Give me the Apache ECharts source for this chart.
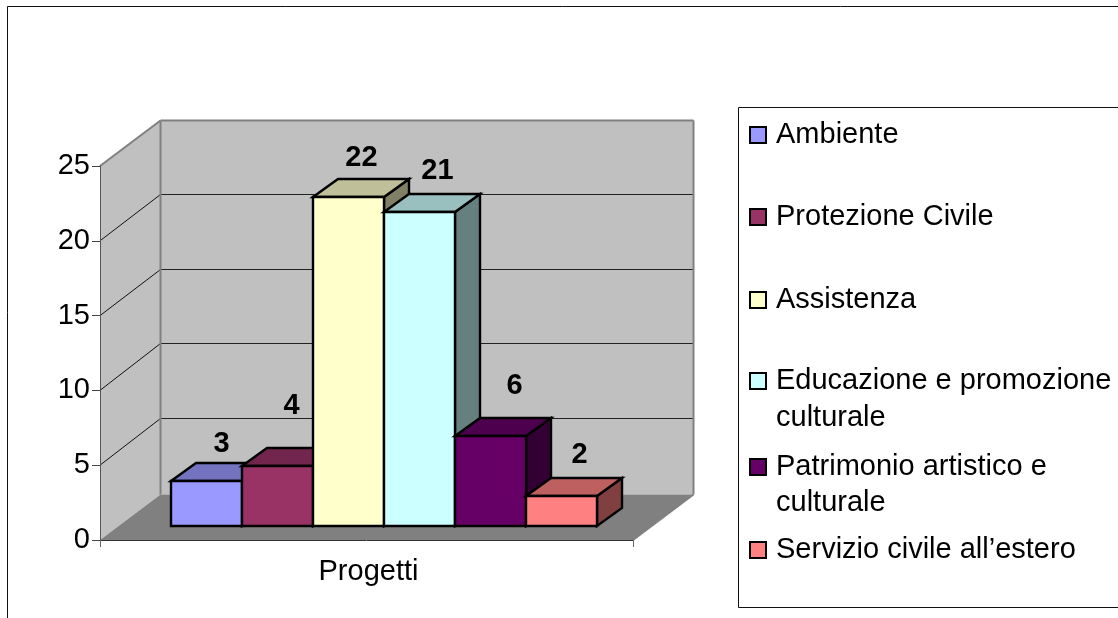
<!DOCTYPE html>
<html><head><meta charset="utf-8">
<style>html,body{margin:0;padding:0;background:#fff}#c{width:1118px;height:618px}</style>
<script src="https://cdn.jsdelivr.net/npm/echarts@6/dist/echarts.min.js"></script>
</head><body><div id="c"></div>
<script>
const categories = ["Progetti"];
const seriesNames = ["Ambiente","Protezione Civile","Assistenza","Educazione e promozione culturale","Patrimonio artistico e culturale","Servizio civile all\u2019estero"];
const seriesValues = [3,4,22,21,6,2];
const seriesColors = ["#9999FF","#993366","#FFFFCC","#CCFFFF","#660066","#FF8080"];
const legendFirstLines = ["Ambiente","Protezione Civile","Assistenza","Educazione e promozione","Patrimonio artistico e","Servizio civile all\u2019estero"];
const legendSecondLines = ["","","","culturale","culturale",""];
const yTicks = [0,5,10,15,20,25];

// layout of the pseudo-3D scene (pixels)
const FONT = '"Liberation Sans", Arial, sans-serif';
const wallDepth = [60.5,-45.5], gridDepthY = -46.5, barDepth = [25,-18], barLift = 14, barInset = 71, barStep = 71;
const labelNudge = [[15,-37],[14,-60],[13,-39],[18,-41],[24,-50],[18,-41]];
const legendCentres = [135,217,300,381,467,550];
const legendSecondCentres = [0,0,0,418,503,0];

function shade(hex,k){
  const n=parseInt(hex.slice(1),16);
  const c=[n>>16,(n>>8)&255,n&255].map(v=>Math.round(v*k));
  return 'rgb('+c.join(',')+')';
}
function poly(points,fill,stroke,w){
  return {type:'polygon',shape:{points},style:{fill,stroke,lineWidth:w,lineJoin:'miter'}};
}
function line(a,b,stroke,w){
  return {type:'line',shape:{x1:a[0],y1:a[1],x2:b[0],y2:b[1]},style:{stroke,lineWidth:w}};
}
function renderWalls(params,api){
  const g=params.coordSys, L=g.x, R=g.x+g.width, dx=wallDepth[0], dy=wallDepth[1];
  const B=api.coord([0,0])[1], T=api.coord([0,25])[1];
  const kids=[
    poly([[L,T],[L+dx,T+dy],[L+dx,B+dy],[L,B]],'#C0C0C0',null,0),
    poly([[L+dx,T+dy],[R+dx,T+dy],[R+dx,B+dy],[L+dx,B+dy]],'#C0C0C0',null,0),
    poly([[L,B],[L+dx,B+dy],[R+dx,B+dy],[R,B]],'#808080',null,0)
  ];
  yTicks.forEach(t=>{
    if(t===0||t===25) return;
    const y=api.coord([0,t])[1], yb=Math.floor(y+gridDepthY)+0.5;
    kids.push(line([L,y],[L+dx,yb],'#111',1));
    kids.push(line([L+dx,yb],[R+dx,yb],'#222',1));
  });
  kids.push(line([L,T],[L+dx,T+dy],'#808080',2));
  kids.push(line([L+dx,T+dy],[R+dx,T+dy],'#808080',2));
  kids.push(line([L+dx,T+dy],[L+dx,B+dy],'#808080',2));
  kids.push(line([R+dx,T+dy],[R+dx,B+dy],'#808080',2));
  kids.push(line([R,B],[R+dx,B+dy],'#808080',2));
  return {type:'group',children:kids};
}
function barRenderer(i){
  return function(params,api){
    const cat=api.value(0), v=api.value(1), band=api.size([1,0])[0];
    const base=api.coord([cat,0]), top=api.coord([cat,v]);
    const x0=Math.round(base[0]-band/2)+barInset+i*barStep, x1=x0+barStep;
    const yB=base[1]-barLift, yT=Math.round(top[1]-barLift), dx=barDepth[0], dy=barDepth[1];
    const col=seriesColors[i], s='#000', w=2.4;
    return {type:'group',children:[
      poly([[x1,yT],[x1+dx,yT+dy],[x1+dx,yB+dy],[x1,yB]],shade(col,0.5),s,w),
      poly([[x0,yT],[x0+dx,yT+dy],[x1+dx,yT+dy],[x1,yT]],shade(col,0.75),s,w),
      poly([[x0,yT],[x1,yT],[x1,yB],[x0,yB]],col,s,w),
      {type:'text',style:{text:String(v),x:(x0+x1)/2+labelNudge[i][0],y:yT+labelNudge[i][1],
        fill:'#000',font:'bold 29px '+FONT,align:'center',verticalAlign:'middle'}}
    ]};
  };
}
const series=[{type:'custom',name:'Pareti',silent:true,z:1,renderItem:renderWalls,data:[[0,0]],
  encode:{x:0,y:1},tooltip:{show:false}}];
seriesNames.forEach((n,i)=>series.push({
  type:'custom',name:n,z:4+i,renderItem:barRenderer(i),
  itemStyle:{color:seriesColors[i],borderColor:'#000',borderWidth:2},
  data:[[0,seriesValues[i]]],encode:{x:0,y:1}
}));
const legends=seriesNames.map((n,i)=>({
  data:[n],orient:'vertical',left:749,top:legendCentres[i]-15,padding:0,
  itemWidth:16,itemHeight:16,icon:'rect',selectedMode:false,
  formatter:()=>legendFirstLines[i],
  itemStyle:{borderColor:'#000',borderWidth:2},
  textStyle:{fontFamily:FONT,fontSize:29,color:'#000',lineHeight:30,padding:[0,0,0,5]}
}));
const graphic=[
  {type:'polyline',silent:true,shape:{points:[[7.5,618],[7.5,6.5],[1118,6.5]]},style:{fill:null,stroke:'#111',lineWidth:1}},
  {type:'polyline',silent:true,shape:{points:[[1118,107.5],[738.5,107.5],[738.5,607.5],[1118,607.5]]},style:{fill:null,stroke:'#111',lineWidth:1}}
];
legendSecondLines.forEach((t,i)=>{ if(t) graphic.push({type:'text',silent:true,left:776,top:legendSecondCentres[i]-15,
  style:{text:t,font:'29px '+FONT,fill:'#000',lineHeight:30}}); });
const chart=echarts.init(document.getElementById('c'),null,{renderer:'canvas'});
chart.setOption({
  animation:false,
  backgroundColor:'#fff',
  grid:{left:100,top:166,width:533,height:374,containLabel:false},
  legend:legends,
  graphic,
  xAxis:{type:'category',data:categories,z:3,
    axisLine:{show:true,lineStyle:{color:'#333',width:1}},
    axisTick:{show:true,length:7,lineStyle:{color:'#666',width:1}},
    splitLine:{show:false},
    axisLabel:{color:'#000',fontFamily:FONT,fontSize:29,margin:17,padding:[0,0,0,4]}},
  yAxis:{type:'value',min:0,max:25,interval:5,z:3,
    axisLine:{show:true,lineStyle:{color:'#555',width:1}},
    axisTick:{show:true,length:8,lineStyle:{color:'#444',width:1}},
    splitLine:{show:false},
    axisLabel:{color:'#000',fontFamily:FONT,fontSize:29,margin:10,padding:[4,0,0,0]}},
  series
});
</script></body></html>
